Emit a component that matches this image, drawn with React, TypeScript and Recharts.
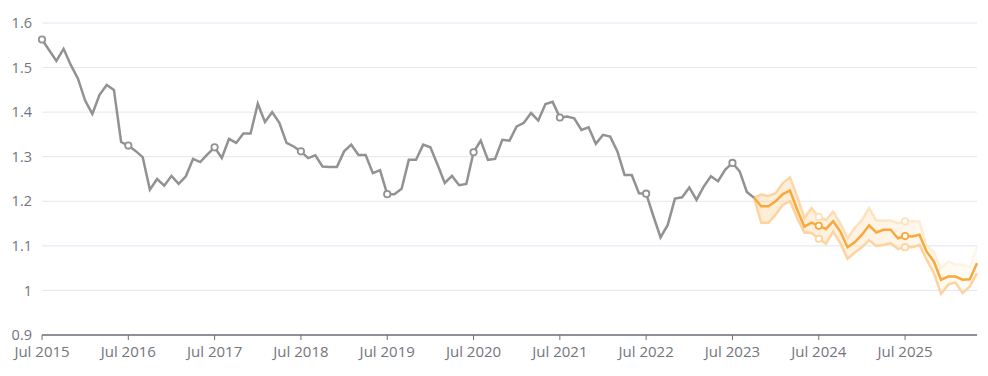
import React from "react";
import {
  ComposedChart,
  Line,
  Area,
  XAxis,
  YAxis,
  CartesianGrid,
} from "recharts";

// Monthly series starting Jul 2015
const START_YEAR = 2015;
const START_MONTH = 6; // July (0-based)
const MONTH_NAMES = ["Jan", "Feb", "Mar", "Apr", "May", "Jun", "Jul", "Aug", "Sep", "Oct", "Nov", "Dec"];

// Historical values (Jul 2015 .. Oct 2023)
const history = [
  1.563, 1.539, 1.515, 1.542, 1.506, 1.475, 1.426, 1.396, 1.439, 1.461, 1.45, 1.333,
  1.325, 1.313, 1.299, 1.226, 1.25, 1.235, 1.257, 1.239, 1.256, 1.295, 1.288, 1.305,
  1.321, 1.297, 1.34, 1.331, 1.352, 1.352, 1.419, 1.378, 1.4, 1.376, 1.331, 1.323,
  1.312, 1.297, 1.303, 1.278, 1.277, 1.277, 1.312, 1.327, 1.304, 1.304, 1.263, 1.27,
  1.216, 1.216, 1.228, 1.293, 1.293, 1.327, 1.321, 1.282, 1.241, 1.257, 1.236, 1.239,
  1.31, 1.336, 1.293, 1.295, 1.338, 1.336, 1.368, 1.376, 1.398, 1.381, 1.418, 1.423,
  1.388, 1.39, 1.386, 1.36, 1.366, 1.329, 1.349, 1.345, 1.312, 1.259, 1.259, 1.218,
  1.217, 1.167, 1.119, 1.147, 1.206, 1.209, 1.231, 1.203, 1.233, 1.256, 1.245, 1.271,
  1.286, 1.267, 1.221, 1.208,
];

// Forecast (Oct 2023 .. May 2026)
const forecast = [
  1.208, 1.189, 1.189, 1.2, 1.216, 1.224, 1.181, 1.143, 1.152, 1.145, 1.138, 1.155,
  1.132, 1.097, 1.108, 1.125, 1.146, 1.13, 1.136, 1.136, 1.117, 1.122, 1.121, 1.125,
  1.087, 1.065, 1.024, 1.031, 1.031, 1.024, 1.025, 1.061,
];
const forecastUpper = [
  1.208, 1.215, 1.212, 1.218, 1.241, 1.254, 1.211, 1.163, 1.185, 1.165, 1.158, 1.177,
  1.151, 1.117, 1.14, 1.158, 1.185, 1.157, 1.157, 1.157, 1.151, 1.155, 1.155, 1.155,
  1.1, 1.087, 1.05, 1.065, 1.058, 1.058, 1.052, 1.1,
];
const forecastLower = [
  1.208, 1.152, 1.152, 1.17, 1.192, 1.2, 1.162, 1.13, 1.129, 1.116, 1.105, 1.132,
  1.106, 1.071, 1.085, 1.097, 1.113, 1.1, 1.102, 1.106, 1.093, 1.097, 1.097, 1.102,
  1.069, 1.039, 0.992, 1.013, 1.018, 0.994, 1.009, 1.039,
];

const yTicks = [0.9, 1, 1.1, 1.2, 1.3, 1.4, 1.5, 1.6];

const FORECAST_START = history.length - 1;
const TOTAL = FORECAST_START + forecast.length;

const data = Array.from({ length: TOTAL }, (_, i) => {
  const m = START_MONTH + i;
  const label = `${MONTH_NAMES[m % 12]} ${START_YEAR + Math.floor(m / 12)}`;
  const f = i - FORECAST_START;
  const inF = f >= 0;
  return {
    label,
    hist: i < history.length ? history[i] : null,
    mid: inF ? forecast[f] : null,
    lo: inF ? forecastLower[f] : null,
    hi: inF ? forecastUpper[f] : null,
    band: inF ? [forecastLower[f], forecastUpper[f]] : null,
  };
});

const GRAY = "#929292";
const ORANGE = "#f9a83b";
const FONT = "'Open Sans', sans-serif";
const TEXT = "#73757d";

const makeDot = (stroke: string) => (props: any) => {
  const { cx, cy, index, value } = props;
  if (value == null || cx == null || cy == null || index % 12 !== 0) {
    return <g key={`d-${index}`} />;
  }
  return (
    <circle
      key={`d-${index}`}
      cx={cx}
      cy={cy}
      r={3.2}
      fill="#fff"
      stroke={stroke}
      strokeWidth={1.8}
    />
  );
};

const XTick = (props: any) => {
  const { x, y, payload } = props;
  return (
    <text
      x={x}
      y={y}
      dy={12.5}
      textAnchor="middle"
      fill={TEXT}
      fontSize={15}
      fontFamily={FONT}
    >
      {payload.value}
    </text>
  );
};

const YTick = (props: any) => {
  const { x, y, payload } = props;
  const v = Math.round(payload.value * 10) / 10;
  return (
    <text
      x={x}
      y={y}
      dy={5.2}
      textAnchor="end"
      fill={TEXT}
      fontSize={14.5}
      fontFamily={FONT}
    >
      {String(v)}
    </text>
  );
};

export default function App() {
  return (
    <div style={{ position: "absolute", left: 0, top: 0, width: 988, height: 376, background: "#fff" }}>
      <ComposedChart
        width={988}
        height={376}
        data={data}
        margin={{ top: 23, right: 11, left: 0, bottom: 0 }}
      >
        <defs>
          <linearGradient id="bandFill" x1="0" y1="0" x2="1" y2="0">
            <stop offset="0%" stopColor="#fcc77e" stopOpacity={0.55} />
            <stop offset="55%" stopColor="#fcc77e" stopOpacity={0.33} />
            <stop offset="100%" stopColor="#fcc77e" stopOpacity={0.1} />
          </linearGradient>
          <linearGradient id="upperStroke" x1="0" y1="0" x2="1" y2="0">
            <stop offset="0%" stopColor="#fdd19a" stopOpacity={1} />
            <stop offset="60%" stopColor="#fdd19a" stopOpacity={0.5} />
            <stop offset="100%" stopColor="#fdd19a" stopOpacity={0.15} />
          </linearGradient>
        </defs>
        <CartesianGrid vertical={false} stroke="#e0e6f1" />
        <XAxis
          dataKey="label"
          scale="point"
          interval={11}
          height={41}
          tickSize={5}
          tickMargin={4}
          stroke="#6e7079"
          tick={<XTick />}
          axisLine={{ stroke: "#6e7079", strokeWidth: 1.5 }}
          tickLine={{ stroke: "#6e7079" }}
        />
        <YAxis
          domain={[0.9, 1.6]}
          ticks={yTicks}
          width={42}
          axisLine={false}
          tickLine={false}
          tickMargin={4}
          tick={<YTick />}
        />
        <Area
          dataKey="band"
          stroke="none"
          fill="url(#bandFill)"
          isAnimationActive={false}
          connectNulls={false}
          activeDot={false}
        />
        <Line
          dataKey="hi"
          stroke="url(#upperStroke)"
          strokeWidth={2.5}
          dot={makeDot("#fde2bf")}
          isAnimationActive={false}
          activeDot={false}
        />
        <Line
          dataKey="lo"
          stroke="#fdd4a0"
          strokeWidth={2.5}
          dot={makeDot("#fdd4a0")}
          isAnimationActive={false}
          activeDot={false}
        />
        <Line
          dataKey="hist"
          stroke={GRAY}
          strokeWidth={2.5}
          dot={makeDot(GRAY)}
          isAnimationActive={false}
          activeDot={false}
        />
        <Line
          dataKey="mid"
          stroke={ORANGE}
          strokeWidth={2.5}
          dot={makeDot(ORANGE)}
          isAnimationActive={false}
          activeDot={false}
        />
      </ComposedChart>
    </div>
  );
}
